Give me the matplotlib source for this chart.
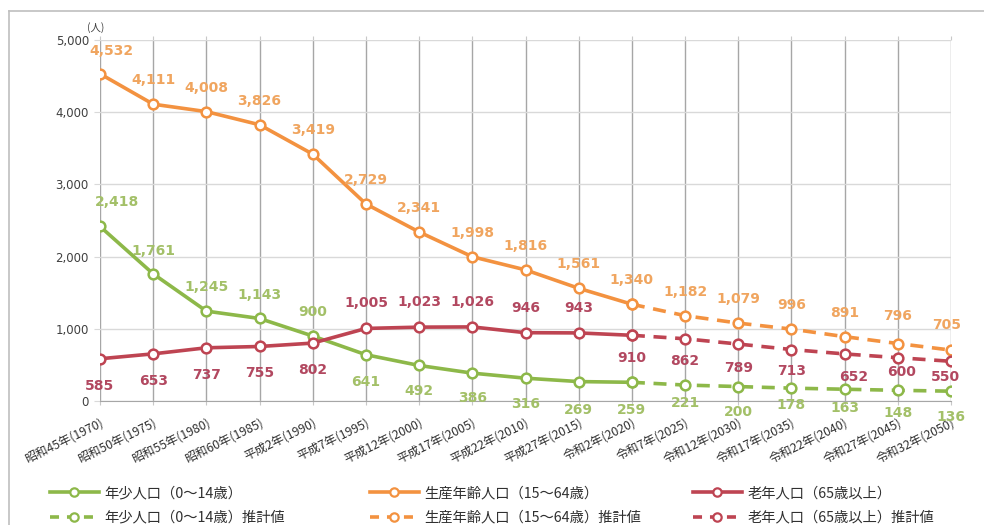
import numpy as np
import matplotlib
matplotlib.use("Agg")
import matplotlib.pyplot as plt
from matplotlib.lines import Line2D

plt.rcParams["font.family"] = ["Noto Sans CJK JP", "DejaVu Sans"]

categories = [
    "昭和45年(1970)", "昭和50年(1975)", "昭和55年(1980)", "昭和60年(1985)",
    "平成2年(1990)", "平成7年(1995)", "平成12年(2000)", "平成17年(2005)",
    "平成22年(2010)", "平成27年(2015)", "令和2年(2020)", "令和7年(2025)",
    "令和12年(2030)", "令和17年(2035)", "令和22年(2040)", "令和27年(2045)",
    "令和32年(2050)",
]
young = [2418, 1761, 1245, 1143, 900, 641, 492, 386, 316, 269, 259,
         221, 200, 178, 163, 148, 136]
working = [4532, 4111, 4008, 3826, 3419, 2729, 2341, 1998, 1816, 1561, 1340,
           1182, 1079, 996, 891, 796, 705]
elderly = [585, 653, 737, 755, 802, 1005, 1023, 1026, 946, 943, 910,
           862, 789, 713, 652, 600, 550]
last_actual = 10  # 令和2年(2020) is the last actual value

series_names = ["年少人口（0～14歳）", "生産年齢人口（15～64歳）", "老年人口（65歳以上）"]
line_colors = ["#8DB849", "#F39240", "#BE4452"]
label_colors = ["#A3C068", "#F0A55F", "#B24860"]

# label offsets in pixels (dx, dy up)
young_off = [(17, 24), (0, 23), (0, 24), (0, 23), (0, 24), (0, -27), (0, -26), (0, -25),
             (0, -26), (0, -28), (0, -28), (0, -18), (0, -25), (0, -17), (0, -19), (0, -23), (0, -26)]
working_off = [(11, 23)] + [(0, 24)] * 14 + [(0, 28), (-4, 25)]
elderly_off = [(0, -27)] * 5 + [(0, 25)] * 5 + [(0, -23), (0, -22), (0, -24), (0, -21),
                                                (9, -23), (4, -14), (-6, -16)]

W, H = 984, 525
fig = plt.figure(figsize=(W / 100, H / 100), dpi=100)
ax = fig.add_axes([100 / W, 1 - 401 / H, (951 - 100) / W, (401 - 40) / H])

x = np.arange(len(categories))
px = 0.72  # points per pixel

for vals, offs, lc, tc in zip([young, working, elderly],
                              [young_off, working_off, elderly_off],
                              line_colors, label_colors):
    kw = dict(color=lc, lw=2.6, marker="o", ms=7, mfc="white", mec=lc, mew=1.8,
              zorder=3, solid_capstyle="butt")
    ax.plot(x[last_actual:], vals[last_actual:], ls=(0, (3.6, 2.4)), **kw)
    ax.plot(x[:last_actual + 1], vals[:last_actual + 1], ls="-", **kw)
    for i, v in enumerate(vals):
        dx, dy = offs[i]
        ax.annotate(f"{v:,}", (x[i], v), xytext=(dx * px, dy * px),
                    textcoords="offset points", ha="center", va="center",
                    fontsize=10, fontweight="bold", color=tc,
                    family="DejaVu Sans", zorder=4)

ax.set_xlim(0, len(categories) - 1)
ax.set_ylim(0, 5000)
ax.set_yticks(range(0, 5001, 1000))
ax.set_yticklabels([f"{v:,}" for v in range(0, 5001, 1000)],
                   family="DejaVu Sans", fontsize=8.5, color="#404040")
ax.set_xticks(x)
ax.set_xticklabels(categories, rotation=26, ha="right", rotation_mode="anchor",
                   fontsize=8.8, color="#303030")
ax.grid(axis="y", color="#D9D9D9", lw=1)
ax.grid(axis="x", color="#A6A6A6", lw=1)
ax.set_axisbelow(True)
for s in ["left", "right", "top"]:
    ax.spines[s].set_visible(False)
ax.spines["bottom"].set_color("#A6A6A6")
ax.tick_params(axis="y", length=4, color="#D9D9D9", pad=4)
ax.tick_params(axis="x", length=0, pad=8)
ax.tick_params(axis="x", top=True, length=3, color="#C8C8C8", which="major")

ax.text(96 / W, 1 - 28 / H, "(人)", transform=fig.transFigure, ha="center",
        va="center", fontsize=7.5, color="#404040")

# legends: one column per series, solid row then dashed row
lx = [50, 370, 693]
for name, lc, xpos in zip(series_names, line_colors, lx):
    handles = [
        Line2D([], [], color=lc, lw=2.6, marker="o", ms=6, mfc="white", mec=lc, mew=1.6),
        Line2D([], [], color=lc, lw=2.6, ls=(0, (2.5, 2.2)), marker="o", ms=6,
               mfc="white", mec=lc, mew=1.6),
    ]
    fig.legend(handles, [name, name + "推計値"], loc="upper left",
               bbox_to_anchor=(xpos / W, 1 - 486 / H), frameon=False,
               fontsize=10.3, handlelength=3.4, handletextpad=0.4,
               labelspacing=0.75, borderpad=0, borderaxespad=0,
               labelcolor="#303030")

# outer frame (top and left edges visible)
fig.add_artist(Line2D([9 / W, 1], [1 - 11 / H, 1 - 11 / H], transform=fig.transFigure,
                      color="#BFBFBF", lw=1.2))
fig.add_artist(Line2D([9 / W, 9 / W], [0, 1 - 11 / H], transform=fig.transFigure,
                      color="#BFBFBF", lw=1.2))

fig.savefig("out.png", dpi=100)
